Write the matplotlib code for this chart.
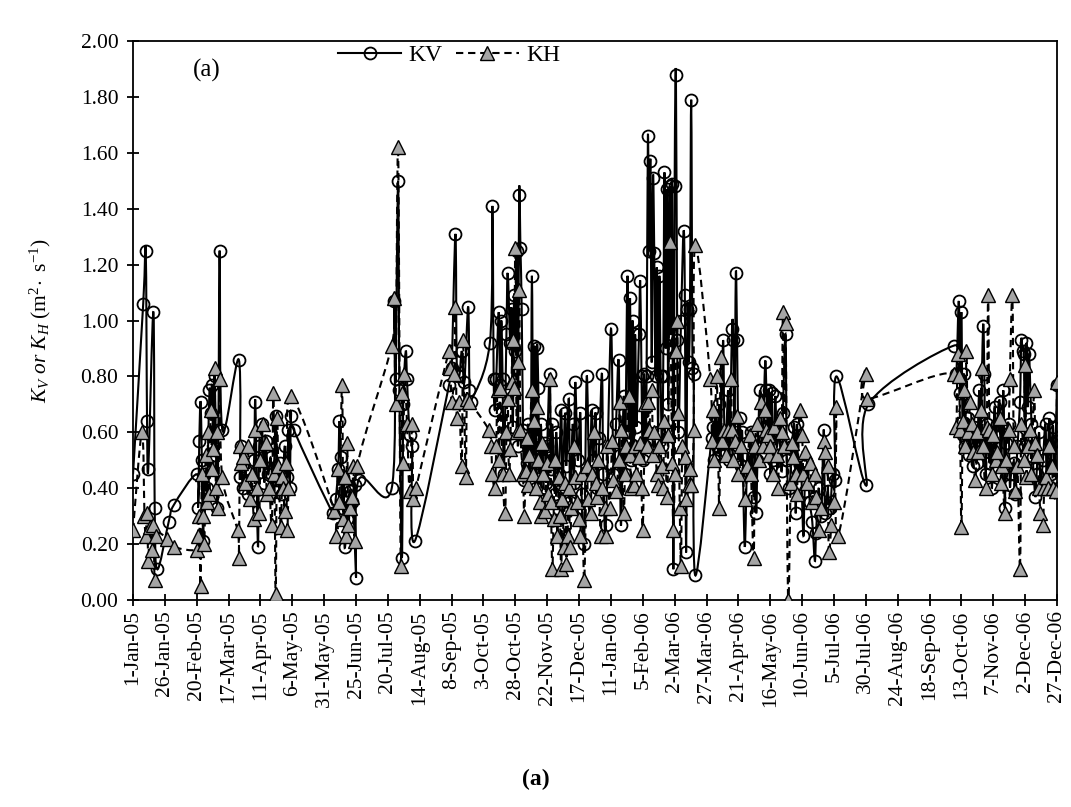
import datetime as dt
import numpy as np
import matplotlib
matplotlib.use("Agg")
import matplotlib.pyplot as plt
from matplotlib.path import Path
from matplotlib.patches import PathPatch
from matplotlib.lines import Line2D

plt.rcParams["font.family"] = ["Liberation Serif", "DejaVu Serif"]
plt.rcParams["mathtext.fontset"] = "custom"
plt.rcParams["mathtext.rm"] = "Liberation Serif"
plt.rcParams["mathtext.it"] = "Liberation Serif:italic"

# ---- data: days since 1-Jan-2005, diffusivity in m2/s ----
start_date = dt.date(2005, 1, 1)

kv_day = [0, 8, 10, 11, 12, 16, 17, 19, 28, 32,
          50, 51, 52, 53, 54, 55, 56, 58, 60, 61, 62, 63, 64, 66, 67, 68, 70,
          83, 84, 85, 86, 88, 90, 93, 95, 96, 98, 99, 101, 103, 104, 106, 108, 110,
          112, 113, 115, 117, 119, 121, 122, 123, 124, 126,
          157, 159, 161, 162, 163, 164, 165, 166, 168, 170, 172, 174, 175, 177,
          203, 205, 206, 208, 209, 211, 212, 214, 215, 217, 219, 221,
          248, 250, 253, 254, 256, 258, 260, 263, 264, 265,
          280, 282, 283, 284, 285, 287, 288, 289, 290, 291, 293, 294, 296, 297, 298,
          299, 300, 301, 302, 303, 304, 305, 306, 307, 308, 309, 310, 312, 313, 314,
          315, 316, 317, 318, 319, 320, 321, 323, 324, 325, 327, 328, 329, 331, 332,
          334, 336, 337, 339, 340, 342, 343, 345, 346, 347, 349, 351, 352, 354, 356,
          358, 360, 361, 363, 364, 366, 368, 369, 371, 375, 377, 379, 381, 382, 383,
          385, 386, 388, 389, 390, 391, 392, 393, 394, 395, 397, 398, 399, 400, 401,
          402, 403, 404, 405, 406, 407, 408, 409, 410, 411, 412, 413, 414, 415, 416,
          417, 418, 419, 420, 421, 422, 423, 424, 425, 426, 427, 428, 430, 432, 433,
          434, 435, 436, 437, 438, 439, 440, 441,
          454, 455, 456, 457, 458, 460, 461, 463, 464, 465, 467, 468, 470, 471, 472,
          473, 474, 475, 476, 477, 478, 480, 482, 484, 485, 487, 488, 489, 490, 492,
          494, 496, 497, 498, 499, 500, 501, 502, 504, 505, 507, 509, 510, 512, 513,
          515, 517, 519, 520, 521, 522, 524, 526, 527, 529, 531, 533, 535, 536, 538,
          540, 542, 543, 545, 547, 549, 551, 552, 575, 577,
          644, 646, 648, 649, 650, 651, 652, 653, 655, 656, 657, 659, 660, 662, 664,
          665, 667, 668, 669, 670, 672, 673, 674, 676, 677, 678, 680, 681, 683, 684,
          685, 687, 688, 689, 691, 692, 694, 696, 697, 698, 699, 700, 701, 702, 703,
          705, 706, 708, 709, 711, 712, 714, 716, 717, 719, 720, 721, 722, 723, 724, 725]
kv_val = [0.45, 1.06, 1.25, 0.64, 0.47, 1.03, 0.33, 0.11, 0.28, 0.34,
          0.45, 0.33, 0.57, 0.71, 0.50, 0.21, 0.45, 0.40, 0.75, 0.67, 0.77, 0.52, 0.80, 0.33, 0.61, 1.25, 0.61,
          0.86, 0.44, 0.55, 0.40, 0.47, 0.38, 0.43, 0.50, 0.71, 0.19, 0.55, 0.63, 0.42, 0.57, 0.45, 0.51, 0.40,
          0.66, 0.43, 0.49, 0.38, 0.55, 0.44, 0.61, 0.40, 0.66, 0.61,
          0.31, 0.36, 0.47, 0.64, 0.51, 0.33, 0.44, 0.19, 0.29, 0.39, 0.35, 0.41, 0.08, 0.43,
          0.40, 1.07, 0.79, 1.50, 0.75, 0.15, 0.70, 0.89, 0.79, 0.59, 0.55, 0.21,
          0.77, 0.83, 1.31, 0.85, 0.80, 0.89, 0.78, 1.05, 0.75, 0.71,
          0.92, 1.41, 0.79, 0.68, 0.79, 1.03, 0.77, 1.00, 0.79, 0.45, 0.95, 1.17, 0.92, 1.04, 0.62,
          1.09, 0.89, 1.25, 0.55, 1.45, 1.26, 1.04, 0.61, 0.43, 0.56, 0.49, 0.63, 0.45, 1.16, 0.52,
          0.91, 0.40, 0.90, 0.76, 0.45, 0.63, 0.50, 0.56, 0.42, 0.55, 0.81, 0.47, 0.63, 0.38, 0.60,
          0.45, 0.68, 0.40, 0.67, 0.48, 0.72, 0.35, 0.63, 0.42, 0.78, 0.50, 0.67, 0.38, 0.20, 0.80,
          0.45, 0.68, 0.50, 0.67, 0.40, 0.58, 0.81, 0.45, 0.27, 0.97, 0.45, 0.63, 0.86, 0.52, 0.27,
          0.73, 0.45, 1.16, 0.60, 1.08, 0.50, 1.00, 0.55, 0.95, 0.62, 0.95, 1.14, 0.80, 0.50, 0.81,
          0.55, 0.80, 1.66, 1.25, 1.57, 0.85, 1.51, 1.24, 0.80, 1.19, 0.60, 1.16, 0.80, 0.55, 0.80,
          1.53, 0.90, 1.47, 0.70, 1.48, 0.95, 1.49, 0.11, 1.48, 1.88, 0.93, 0.60, 1.00, 1.32, 1.09,
          0.17, 1.04, 0.85, 1.04, 1.79, 0.83, 0.81, 0.09,
          0.58, 0.62, 0.50, 0.66, 0.55, 0.70, 0.52, 0.93, 0.60, 0.53, 0.75, 0.50, 0.97, 0.93, 0.60,
          1.17, 0.93, 0.55, 0.65, 0.48, 0.60, 0.19, 0.52, 0.45, 0.60, 0.37, 0.55, 0.31, 0.50, 0.75,
          0.55, 0.85, 0.75, 0.62, 0.75, 0.45, 0.74, 0.50, 0.73, 0.55, 0.60, 0.46, 0.67, 0.95, 0.50,
          0.40, 0.55, 0.62, 0.31, 0.63, 0.45, 0.49, 0.23, 0.39, 0.49, 0.35, 0.28, 0.14, 0.24, 0.40,
          0.30, 0.61, 0.31, 0.39, 0.33, 0.45, 0.43, 0.80, 0.41, 0.70,
          0.91, 0.81, 1.07, 0.74, 1.03, 0.59, 0.81, 0.55, 0.65, 0.52, 0.57, 0.48, 0.62, 0.49, 0.75,
          0.55, 0.98, 0.81, 0.45, 0.63, 0.49, 0.58, 0.40, 0.69, 0.50, 0.63, 0.71, 0.45, 0.75, 0.33,
          0.56, 0.63, 0.41, 0.45, 0.49, 0.38, 0.55, 0.71, 0.93, 0.89, 0.88, 0.55, 0.92, 0.69, 0.88,
          0.63, 0.51, 0.37, 0.45, 0.60, 0.42, 0.50, 0.63, 0.40, 0.65, 0.45, 0.56, 0.62, 0.44, 0.57, 0.77]

kh_day = [0, 7, 9, 10, 11, 12, 13, 15, 16, 17, 18, 27, 32,
          50, 51, 52, 53, 54, 55, 56, 57, 58, 59, 60, 61, 62, 63, 64, 65, 66, 67, 68, 70,
          82, 83, 84, 85, 86, 88, 90, 92, 93, 95, 96, 97, 99, 100, 102, 104, 105, 107, 109,
          110, 111, 112, 113, 114, 116, 117, 118, 119, 120, 121, 122, 124,
          158, 159, 161, 162, 164, 165, 166, 167, 168, 169, 170, 172, 173, 174, 176,
          203, 205, 206, 208, 210, 211, 212, 213, 215, 217, 219, 220, 222,
          248, 249, 250, 252, 253, 254, 256, 258, 259, 261, 262, 264,
          279, 281, 282, 284, 285, 286, 287, 288, 290, 292, 293, 294, 295, 296, 297,
          298, 299, 300, 301, 302, 303, 304, 306, 307, 308, 309, 310, 311, 313, 314,
          315, 316, 317, 318, 319, 320, 321, 322, 323, 325, 326, 327, 328, 329, 330,
          331, 333, 334, 335, 336, 337, 338, 339, 340, 341, 342, 343, 344, 346, 347,
          348, 350, 351, 352, 354, 356, 357, 359, 360, 362, 363, 364, 365, 367, 368,
          370, 371, 372, 374, 376, 377, 379, 381, 382, 383, 385, 386, 387, 389, 390,
          391, 393, 394, 395, 397, 398, 399, 400, 402, 403, 404, 405, 407, 408, 409,
          411, 412, 413, 415, 416, 417, 419, 420, 421, 423, 424, 425, 426, 427, 428,
          429, 430, 431, 433, 434, 436, 437, 438, 440, 441,
          453, 454, 455, 456, 458, 460, 461, 462, 464, 465, 467, 469, 470, 471, 472,
          474, 475, 477, 480, 482, 484, 485, 487, 488, 490, 491, 493, 494, 496, 497,
          498, 499, 500, 502, 503, 505, 506, 508, 509, 510, 511, 512, 514, 516, 517,
          518, 520, 521, 523, 525, 526, 527, 529, 531, 533, 535, 536, 538, 540, 542,
          543, 545, 546, 548, 550, 552, 553, 575, 576,
          644, 646, 647, 648, 649, 650, 651, 652, 653, 654, 655, 657, 658, 659, 661,
          662, 663, 665, 666, 667, 669, 670, 671, 672, 674, 675, 677, 678, 680, 681,
          682, 684, 685, 687, 688, 690, 691, 692, 694, 696, 697, 699, 700, 701, 702,
          704, 705, 707, 708, 709, 711, 712, 714, 715, 716, 718, 719, 721, 722, 724, 725]
kh_val = [0.25, 0.60, 0.30, 0.23, 0.31, 0.14, 0.26, 0.18, 0.27, 0.07, 0.23, 0.22, 0.19,
          0.18, 0.23, 0.30, 0.05, 0.45, 0.30, 0.20, 0.52, 0.35, 0.60, 0.38, 0.68, 0.47, 0.54, 0.83, 0.40, 0.60, 0.33, 0.79, 0.44,
          0.25, 0.15, 0.55, 0.49, 0.51, 0.42, 0.55, 0.36, 0.45, 0.29, 0.61, 0.40, 0.31, 0.50, 0.63, 0.56, 0.38, 0.40, 0.27,
          0.74, 0.45, 0.02, 0.65, 0.48, 0.26, 0.44, 0.40, 0.32, 0.49, 0.25, 0.40, 0.73,
          0.32, 0.23, 0.47, 0.35, 0.77, 0.29, 0.44, 0.23, 0.56, 0.27, 0.33, 0.37, 0.48, 0.21, 0.48,
          0.91, 1.08, 0.70, 1.62, 0.12, 0.74, 0.49, 0.81, 0.63, 0.39, 0.63, 0.36, 0.40,
          0.89, 0.83, 0.71, 0.81, 1.05, 0.65, 0.71, 0.48, 0.93, 0.44, 0.72, 0.71,
          0.61, 0.55, 0.45, 0.40, 0.55, 0.75, 0.50, 0.76, 0.45, 0.31, 0.60, 0.72, 0.45, 0.54, 0.78,
          0.93, 0.76, 1.26, 0.60, 0.85, 1.11, 0.61, 0.45, 0.30, 0.46, 0.58, 0.41, 0.52, 0.75, 0.45,
          0.64, 0.40, 0.69, 0.50, 0.35, 0.30, 0.56, 0.45, 0.32, 0.49, 0.38, 0.79, 0.35, 0.11, 0.29,
          0.50, 0.23, 0.44, 0.30, 0.11, 0.36, 0.19, 0.42, 0.13, 0.23, 0.40, 0.19, 0.33, 0.55, 0.44,
          0.35, 0.29, 0.23, 0.45, 0.07, 0.48, 0.36, 0.31, 0.45, 0.60, 0.42, 0.37, 0.50, 0.23, 0.40,
          0.33, 0.23, 0.55, 0.33, 0.57, 0.43, 0.39, 0.50, 0.71, 0.61, 0.31, 0.45, 0.55, 0.73, 0.52,
          0.40, 0.41, 0.55, 0.45, 0.51, 0.56, 0.40, 0.25, 0.70, 0.55, 0.71, 0.61, 0.75, 0.52, 0.60,
          0.45, 0.41, 0.55, 0.48, 0.40, 0.64, 0.37, 0.59, 1.28, 0.49, 0.25, 0.45, 0.89, 1.00, 0.67,
          0.33, 0.12, 0.55, 0.51, 0.36, 0.41, 0.47, 0.41, 0.61, 1.27,
          0.79, 0.57, 0.68, 0.50, 0.80, 0.33, 0.87, 0.57, 0.61, 0.52, 0.61, 0.79, 0.61, 0.50, 0.57,
          0.66, 0.45, 0.55, 0.36, 0.48, 0.59, 0.45, 0.15, 0.55, 0.63, 0.50, 0.71, 0.55, 0.68, 0.61,
          0.59, 0.52, 0.55, 0.45, 0.62, 0.52, 0.40, 0.65, 0.60, 1.03, 0.55, 0.99, 0.00, 0.42, 0.56,
          0.51, 0.45, 0.38, 0.68, 0.59, 0.45, 0.53, 0.42, 0.49, 0.35, 0.45, 0.37, 0.25, 0.33, 0.57,
          0.53, 0.48, 0.17, 0.27, 0.35, 0.69, 0.23, 0.81, 0.72,
          0.81, 0.62, 0.88, 0.80, 0.61, 0.26, 0.64, 0.75, 0.55, 0.89, 0.60, 0.71, 0.63, 0.53, 0.43,
          0.60, 0.53, 0.68, 0.83, 0.55, 0.40, 0.62, 1.09, 0.61, 0.45, 0.59, 0.50, 0.53, 0.65, 0.42,
          0.48, 0.31, 0.50, 0.61, 0.79, 1.09, 0.55, 0.39, 0.48, 0.11, 0.63, 0.50, 0.84, 0.44, 0.55,
          0.61, 0.45, 0.75, 0.56, 0.52, 0.40, 0.31, 0.27, 0.40, 0.44, 0.40, 0.55, 0.48, 0.40, 0.39, 0.78]

tick_days = list(range(0, 726, 25))


def smooth_path(x, y):
    """Cubic Bezier path through the points (Catmull-Rom style tangents)."""
    pts = np.column_stack([np.asarray(x, float), np.asarray(y, float)])
    n = len(pts)
    verts = [pts[0]]
    codes = [Path.MOVETO]
    for i in range(n - 1):
        p0 = pts[i - 1] if i > 0 else pts[i]
        p1, p2 = pts[i], pts[i + 1]
        p3 = pts[i + 2] if i + 2 < n else pts[i + 1]
        verts += [p1 + (p2 - p0) / 6.0, p2 - (p3 - p1) / 6.0, p2]
        codes += [Path.CURVE4] * 3
    return Path(verts, codes)


fig = plt.figure(figsize=(10.71, 8.07), dpi=100)
ax = fig.add_axes([0.1242, 0.2565, 0.8627, 0.6927])

dash = (0, (3.5, 2.3))
grey = "#a5a5a5"

ax.add_patch(PathPatch(smooth_path(kv_day, kv_val), fill=False,
                       edgecolor="black", lw=1.5, zorder=2))
ax.plot(kv_day, kv_val, linestyle="none", marker="o", ms=8.6,
        mfc="none", mec="black", mew=1.3, zorder=3)
ax.add_patch(PathPatch(smooth_path(kh_day, kh_val), fill=False,
                       edgecolor="black", lw=1.5, linestyle=dash, zorder=4))
ax.plot(kh_day, kh_val, linestyle="none", marker="^", ms=9.8,
        mfc=grey, mec="black", mew=1.0, zorder=5)

ax.set_xlim(0, 725)
ax.set_ylim(0, 2.0)
ax.set_yticks(np.arange(0, 2.01, 0.2))
ax.yaxis.set_major_formatter(matplotlib.ticker.FormatStrFormatter("%.2f"))
ax.set_xticks(tick_days)
labels = []
for d in tick_days:
    day = start_date + dt.timedelta(days=d)
    labels.append(f"{day.day}-{day.strftime('%b-%y')}")
ax.set_xticklabels(labels, rotation=90, va="top", ha="center")

for s in ax.spines.values():
    s.set_linewidth(1.3)
ax.tick_params(axis="both", direction="inout", length=9, width=1.3,
               labelsize=15.5, colors="black")
ax.tick_params(axis="y", pad=6)
ax.tick_params(axis="x", pad=3)

ax.set_ylabel(r"$K_V\ or\ K_H\ \mathrm{(m^{2}\!\cdot\ s^{-1})}$", fontsize=15.5)
ax.yaxis.set_label_coords(-0.087, 0.5)

ax.text(0.08, 0.948, "(a)", transform=ax.transAxes, fontsize=18,
        ha="center", va="center")

handles = [
    Line2D([], [], color="black", lw=1.5, marker="o", ms=8.6, mfc="none",
           mec="black", mew=1.3),
    Line2D([], [], color="black", lw=1.5, linestyle=dash, marker="^", ms=9.8,
           mfc=grey, mec="black", mew=1.0),
]
ax.legend(handles, ["KV", "KH"], loc="center", bbox_to_anchor=(0.342, 0.974),
          ncol=2, frameon=False, fontsize=17, handlelength=2.7,
          handletextpad=0.3, columnspacing=0.55, borderpad=0.1)

fig.text(0.5005, 0.034, "(a)", fontsize=17, fontweight="bold",
         ha="center", va="center")

fig.savefig("out.png", dpi=100)
